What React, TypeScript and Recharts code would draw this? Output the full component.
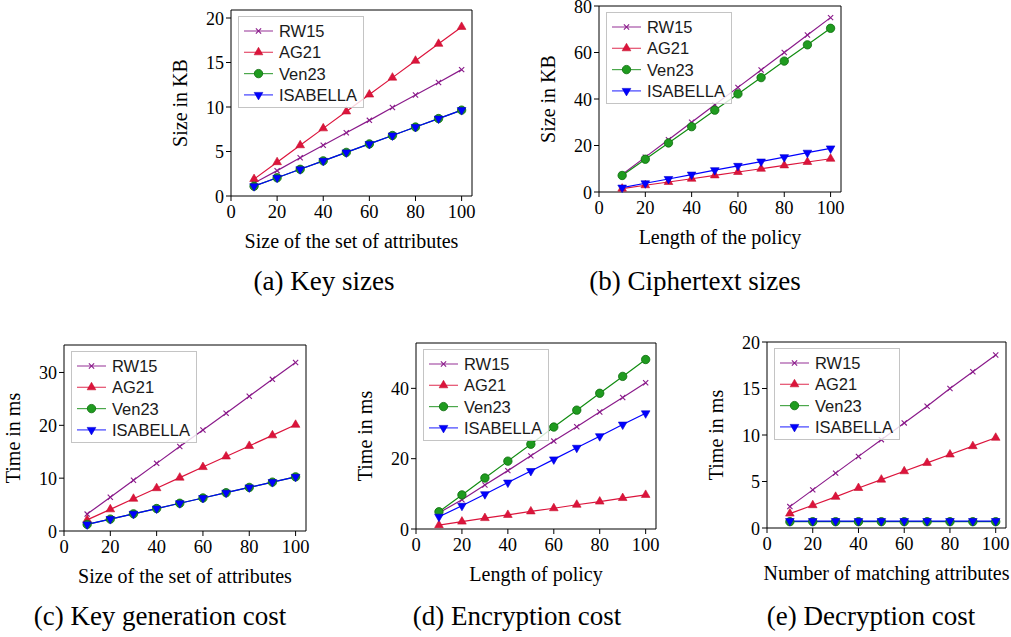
import React from "react";
import { LineChart, Line, XAxis, YAxis, ReferenceArea } from "recharts";

// x positions shared by every panel
const xValues = [10, 20, 30, 40, 50, 60, 70, 80, 90, 100];
const xTicks = [0, 20, 40, 60, 80, 100];

// (a) Key sizes, KB
const keyRW15 = [1.45, 2.85, 4.3, 5.7, 7.1, 8.5, 9.95, 11.35, 12.75, 14.2];
const keyAG21 = [1.9, 3.8, 5.7, 7.6, 9.5, 11.4, 13.3, 15.2, 17.1, 19.0];
const keyVen23 = [1.1, 2.05, 3.0, 3.95, 4.9, 5.85, 6.8, 7.75, 8.7, 9.65];
const keyISABELLA = [1.1, 2.05, 3.0, 3.95, 4.9, 5.85, 6.8, 7.75, 8.7, 9.65];
const keyTicks = [0, 5, 10, 15, 20];

// (b) Ciphertext sizes, KB
const ctRW15 = [7.5, 15.0, 22.5, 30.0, 37.5, 45.0, 52.5, 60.0, 67.5, 75.0];
const ctAG21 = [1.45, 2.9, 4.3, 5.7, 7.15, 8.6, 10.0, 11.45, 12.9, 14.3];
const ctVen23 = [7.1, 14.1, 21.1, 28.1, 35.2, 42.2, 49.2, 56.3, 63.3, 70.4];
const ctISABELLA = [1.9, 3.75, 5.6, 7.5, 9.4, 11.25, 13.1, 15.0, 16.9, 18.75];
const ctTicks = [0, 20, 40, 60, 80];

// (c) Key generation cost, ms
const kgRW15 = [3.2, 6.4, 9.6, 12.8, 16.0, 19.1, 22.3, 25.5, 28.7, 31.9];
const kgAG21 = [2.1, 4.1, 6.1, 8.1, 10.1, 12.1, 14.1, 16.1, 18.1, 20.1];
const kgVen23 = [1.25, 2.25, 3.25, 4.25, 5.25, 6.25, 7.25, 8.25, 9.25, 10.25];
const kgISABELLA = [1.25, 2.25, 3.25, 4.25, 5.25, 6.25, 7.25, 8.25, 9.25, 10.25];
const kgTicks = [0, 10, 20, 30];

// (d) Encryption cost, ms
const encRW15 = [4.6, 8.3, 12.5, 16.6, 20.8, 25.0, 29.1, 33.3, 37.4, 41.6];
const encAG21 = [1.1, 2.1, 3.1, 4.0, 5.0, 5.9, 6.9, 7.8, 8.8, 9.7];
const encVen23 = [4.9, 9.7, 14.5, 19.3, 24.1, 29.0, 33.8, 38.6, 43.4, 48.2];
const encISABELLA = [3.5, 6.6, 9.9, 13.2, 16.5, 19.8, 23.1, 26.4, 29.7, 32.9];
const encTicks = [0, 20, 40];

// (e) Decryption cost, ms
const decRW15 = [2.3, 4.1, 5.9, 7.7, 9.5, 11.3, 13.1, 15.0, 16.8, 18.6];
const decAG21 = [1.55, 2.45, 3.35, 4.3, 5.2, 6.1, 7.0, 7.9, 8.8, 9.7];
const decVen23 = [0.68, 0.68, 0.68, 0.68, 0.68, 0.68, 0.68, 0.68, 0.68, 0.68];
const decISABELLA = [0.75, 0.75, 0.75, 0.75, 0.75, 0.75, 0.75, 0.75, 0.75, 0.75];
const decTicks = [0, 5, 10, 15, 20];

const schemes = ["RW15", "AG21", "Ven23", "ISABELLA"];

const SERIF = '"Liberation Serif", "Times New Roman", serif';
const SANS = '"Liberation Sans", Arial, sans-serif';

const styles = [
  { color: "#8a1a8a", mark: "cross", fill: "#8a1a8a", edge: "#8a1a8a" },
  { color: "#dc143c", mark: "tri", fill: "#dc143c", edge: "#c8102e" },
  { color: "#118c11", mark: "circle", fill: "#1f9b1f", edge: "#0b6b0b" },
  { color: "#0000ff", mark: "triDown", fill: "#0000ff", edge: "#0000cc" },
];

function Marker({ kind, cx, cy, fill, edge }: any) {
  if (cx == null || cy == null) return null;
  if (kind === "cross") {
    const s = 2.6;
    return (
      <g stroke={fill} strokeWidth={1.1}>
        <line x1={cx - s} y1={cy - s} x2={cx + s} y2={cy + s} />
        <line x1={cx - s} y1={cy + s} x2={cx + s} y2={cy - s} />
      </g>
    );
  }
  if (kind === "circle") {
    return <circle cx={cx} cy={cy} r={4.2} fill={fill} stroke={edge} strokeWidth={0.8} />;
  }
  const r = 5;
  const d = kind === "tri" ? 1 : -1;
  const pts = [
    [cx, cy - d * r],
    [cx - 0.866 * r, cy + d * 0.5 * r],
    [cx + 0.866 * r, cy + d * 0.5 * r],
  ]
    .map((p) => p.join(","))
    .join(" ");
  return <polygon points={pts} fill={fill} stroke={edge} strokeWidth={0.6} />;
}

// y tick label, right-aligned, digits centred on the tick
function YTick({ x, y, payload }: any) {
  return (
    <text x={x} y={y + 6.6} textAnchor="end" fontFamily={SERIF} fontSize={18} fill="#000">
      {payload.value}
    </text>
  );
}

const YW = 70;
const MT = 10;
const MR = 4;
const XH = 60;
const XMAX = 104.5;

function Panel({ left, top, width, height, yMax, yTicks, xLabel, yLabel, values }: any) {
  const data = xValues.map((x, i) => {
    const row: any = { x };
    values.forEach((v: number[], k: number) => {
      row[`s${k}`] = v[i];
    });
    return row;
  });

  return (
    <div style={{ position: "absolute", left: left - YW, top: top - MT }}>
      <LineChart
        width={YW + width + MR}
        height={MT + height + XH}
        data={data}
        margin={{ top: MT, right: MR, left: 0, bottom: 0 }}
      >
        <XAxis
          dataKey="x"
          type="number"
          domain={[0, XMAX]}
          ticks={xTicks}
          interval={0}
          height={XH}
          axisLine={false}
          tickLine={{ stroke: "#000" }}
          tickSize={5}
          tickMargin={4}
          tick={{ fill: "#000", fontSize: 18.5, fontFamily: SERIF }}
          label={{
            content: (p: any) => {
              const vb = p.viewBox;
              return (
                <text x={vb.x + vb.width / 2} y={vb.y + 51.5} textAnchor="middle" fontFamily={SERIF} fontSize={20} fill="#000">
                  {xLabel}
                </text>
              );
            },
          }}
        />
        <YAxis
          type="number"
          domain={[0, yMax]}
          ticks={yTicks}
          interval={0}
          width={YW}
          axisLine={false}
          tickLine={{ stroke: "#000" }}
          tickSize={5}
          tickMargin={2}
          tick={<YTick />}
          label={{
            content: (p: any) => {
              const vb = p.viewBox;
              const bx = vb.x + vb.width - 44;
              const cy = vb.y + vb.height / 2;
              return (
                <text x={bx} y={cy} transform={`rotate(-90 ${bx} ${cy})`} textAnchor="middle" fontFamily={SERIF} fontSize={20} fill="#000">
                  {yLabel}
                </text>
              );
            },
          }}
        />
        <ReferenceArea x1={0} x2={XMAX} y1={0} y2={yMax} fill="none" fillOpacity={0} stroke="#000" strokeWidth={1} ifOverflow="visible" />
        {values.map((_: number[], k: number) => {
          const st = styles[k];
          return (
            <Line
              key={schemes[k]}
              dataKey={`s${k}`}
              name={schemes[k]}
              stroke={st.color}
              strokeWidth={1.2}
              isAnimationActive={false}
              activeDot={false}
              dot={(p: any) => <Marker key={`${k}-${p.index}`} kind={st.mark} cx={p.cx} cy={p.cy} fill={st.fill} edge={st.edge} />}
            />
          );
        })}
      </LineChart>
      <div
        style={{
          position: "absolute",
          left: YW + 7,
          top: MT + 6,
          width: 124,
          height: 90,
          border: "1px solid #c4c4c4",
          background: "rgba(255,255,255,0.82)",
        }}
      >
        <svg width={124} height={90} style={{ display: "block" }}>
          {schemes.map((name, k) => {
            const st = styles[k];
            const cy = 14 + k * 21.3;
            return (
              <g key={name}>
                <line x1={5} y1={cy} x2={34} y2={cy} stroke={st.color} strokeWidth={1.2} opacity={0.75} />
                <Marker kind={st.mark} cx={19.5} cy={cy} fill={st.fill} edge={st.edge} />
                <text x={40} y={cy + 6} fontFamily={SANS} fontSize={16.5} fill="#1a1a1a">
                  {name}
                </text>
              </g>
            );
          })}
        </svg>
      </div>
    </div>
  );
}

const captions = [
  { text: "(a) Key sizes", x: 324, y: 290 },
  { text: "(b) Ciphertext sizes", x: 695, y: 290 },
  { text: "(c) Key generation cost", x: 160, y: 625 },
  { text: "(d) Encryption cost", x: 517, y: 625 },
  { text: "(e) Decryption cost", x: 871, y: 625 },
];

export default function App() {
  return (
    <div style={{ position: "absolute", left: 0, top: 0, width: 1011, height: 637, overflow: "hidden", background: "#fff" }}>
      <Panel left={231} top={10} width={241} height={186} yMax={20.9} yTicks={keyTicks}
        xLabel="Size of the set of attributes" yLabel="Size in KB"
        values={[keyRW15, keyAG21, keyVen23, keyISABELLA]} />
      <Panel left={599} top={6} width={242} height={186} yMax={80} yTicks={ctTicks}
        xLabel="Length of the policy" yLabel="Size in KB"
        values={[ctRW15, ctAG21, ctVen23, ctISABELLA]} />
      <Panel left={64} top={345} width={242} height={186} yMax={35.2} yTicks={kgTicks}
        xLabel="Size of the set of attributes" yLabel="Time in ms"
        values={[kgRW15, kgAG21, kgVen23, kgISABELLA]} />
      <Panel left={416} top={343} width={240} height={186} yMax={52.9} yTicks={encTicks}
        xLabel="Length of policy" yLabel="Time in ms"
        values={[encRW15, encAG21, encVen23, encISABELLA]} />
      <Panel left={767} top={342} width={239} height={186} yMax={20} yTicks={decTicks}
        xLabel="Number of matching attributes" yLabel="Time in ms"
        values={[decRW15, decAG21, decVen23, decISABELLA]} />
      <svg width={1011} height={637} style={{ position: "absolute", left: 0, top: 0, pointerEvents: "none" }}>
        {captions.map((c) => (
          <text key={c.text} x={c.x} y={c.y} textAnchor="middle" fontFamily={SERIF} fontSize={27} fill="#000">
            {c.text}
          </text>
        ))}
      </svg>
    </div>
  );
}
